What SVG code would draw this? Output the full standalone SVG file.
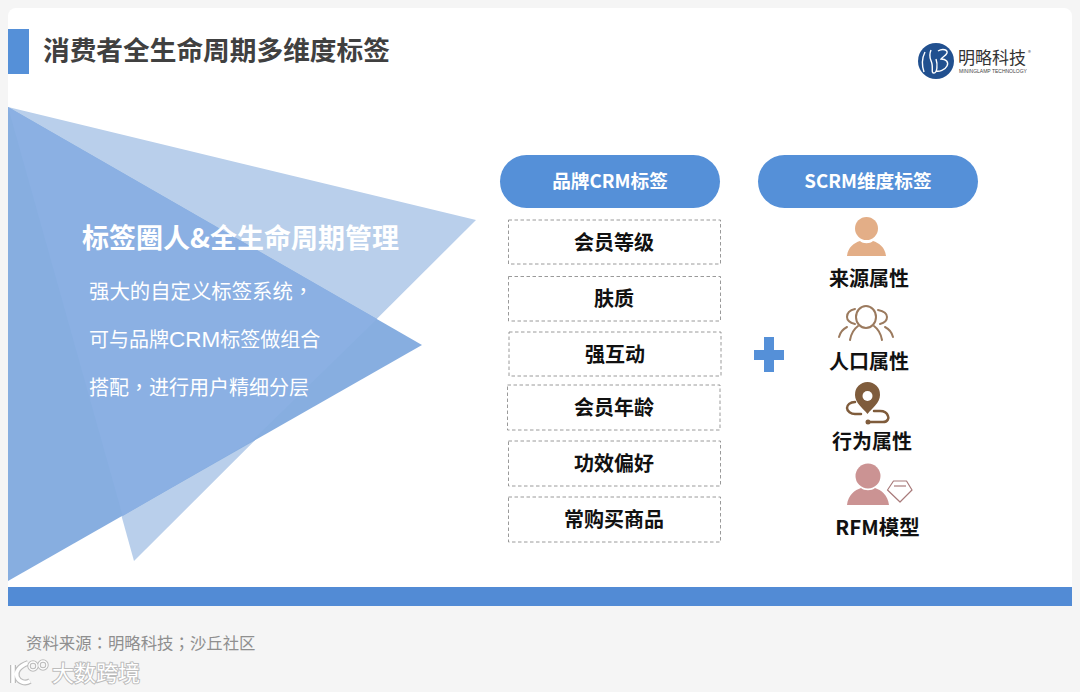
<svg xmlns="http://www.w3.org/2000/svg" width="1080" height="692" viewBox="0 0 1080 692">
<style>
text{font-family:"Noto Sans CJK SC","Liberation Sans",sans-serif}
.tc{font-family:"Noto Sans CJK TC","Liberation Sans",sans-serif}
.pill{fill:#5590d8}
.pilltext{fill:#fff;font-size:18.7px;font-weight:700;text-anchor:middle}
.box{fill:#fff;stroke:#808080;stroke-width:.8;stroke-dasharray:3.500 2.500}
.tag{fill:#111;font-size:20px;font-weight:700;text-anchor:middle}
.body{fill:#fff;font-size:20.400px}
.ico{fill:none;stroke-linecap:round}
</style>
<rect width="1080" height="692" fill="#f5f5f5"/>
<path d="M16 8H1064a8 8 0 0 1 8 8V606H8V16a8 8 0 0 1 8-8Z" fill="#fff"/>
<rect x="8" y="587" width="1064" height="19" fill="#528bd5"/>
<g id="header">
<rect x="8" y="29" width="21" height="45" fill="#5590d8"/>
<text x="43" y="60" font-size="26.700" font-weight="700" fill="#404040">消费者全生命周期多维度标签</text>
</g>
<g id="logo">
<circle cx="936" cy="61" r="18" fill="#21508f"/>
<path d="M925 52c-3 6-3 14-1 20M931 50c-3 7 0 9 1 14s-1 9 2 9 4-8 2-14M938 51c5-3 10-1 9 2s-5 4-6 6c5 0 8 3 6 7s-8 6-11 5" fill="none" stroke="#fff" stroke-width="1.400"/>
<text x="958" y="64" font-size="17" fill="#333">明略科技</text>
<text x="1028" y="55" font-size="6" fill="#555">®</text>
<text x="959" y="72.500" font-size="5" fill="#444" style="font-family:'Liberation Sans'">MININGLAMP TECHNOLOGY</text>
</g>
<g id="triangles">
<polygon points="8,107 476,220 134,561" fill="#b9cfeb"/>
<polygon points="8,107 422,345 8,581" fill="#87aee0"/>
<polygon points="8,107 377,319 252,441 122.700,516" fill="#8bb0e3"/>
</g>
<g id="left-text">
<text x="82" y="248" font-size="27" font-weight="700" fill="#fff">标签圈人&amp;全生命周期管理</text>
<text x="89" y="299" class="body">强大的自定义标签系统<tspan class="tc">，</tspan></text>
<text x="89" y="347" class="body" style="font-size:20px">可与品牌<tspan style="font-family:'Liberation Sans';font-size:22.500px">CRM</tspan>标签做组合</text>
<text x="89" y="395" class="body" style="font-size:20px">搭配<tspan class="tc">，</tspan>进行用户精细分层</text>
</g>
<g id="pill-crm"><rect x="500" y="155" width="220" height="53" rx="26.500" class="pill"/><text x="610" y="188" class="pilltext">品牌CRM标签</text></g>
<g id="pill-scrm"><rect x="758" y="155" width="220" height="53" rx="26.500" class="pill"/><text x="868" y="188" class="pilltext">SCRM维度标签</text></g>
<g id="tag-1"><rect x="508.500" y="220" width="212" height="44" class="box"/><text x="614" y="250" class="tag">会员等级</text></g>
<g id="tag-2"><rect x="508.500" y="276.500" width="212" height="44.500" class="box"/><text x="614" y="306" class="tag">肤质</text></g>
<g id="tag-3"><rect x="509" y="332" width="212" height="44" class="box"/><text x="615" y="362" class="tag">强互动</text></g>
<g id="tag-4"><rect x="507.500" y="385" width="212.500" height="45" class="box"/><text x="614" y="415" class="tag">会员年龄</text></g>
<g id="tag-5"><rect x="508.500" y="441" width="212" height="45" class="box"/><text x="614" y="471" class="tag">功效偏好</text></g>
<g id="tag-6"><rect x="508.500" y="497" width="212" height="45" class="box"/><text x="614" y="527" class="tag">常购买商品</text></g>
<g id="plus"><path d="M764 337h10v13h10v10h-10v12h-10v-12h-10v-10h10Z" fill="#5590d8"/></g>
<g id="attr-source">
<circle cx="866.500" cy="228.500" r="11.500" fill="#e3ae87"/>
<path d="M847 256c1-9 7-13 13-15 3 3 10 3 13 0 6 2 12 6 13 15Z" fill="#e3ae87"/>
<text x="869" y="286" class="tag">来源属性</text>
</g>
<g id="attr-people">
<g class="ico" stroke="#9b7a5e" stroke-width="2">
<ellipse cx="866" cy="317" rx="10" ry="11"/>
<path d="M850 340c1-6 4-11 8-14M882 340c-1-6-4-11-8-14M855 309c-5 1-8 4-8 8s4 6 8 7M878 310c5 1 9 3 9 7s-3 6-7 7M839 337c1-4 4-8 8-10M893 337c-1-4-4-8-8-10"/>
</g>
<text x="869" y="369" class="tag">人口属性</text>
</g>
<g id="attr-behavior">
<path d="M867.500 382a12.500 12.500 0 0 1 12.500 13c0 8-8 13-12.500 19-4.500-6-12.500-11-12.500-19a12.500 12.500 0 0 1 12.500-13Z" fill="#7f5c3c"/>
<circle cx="867.500" cy="396" r="5" fill="#fff"/>
<path d="M855 402c-5 0-8 3-8 6s4 6 8 6h6M868 422h15c5 0 6-4 5-6-1-3-4-5-8-5h-6" fill="none" stroke="#7f5c3c" stroke-width="2.500" stroke-linecap="round"/>
<circle cx="868" cy="422" r="2.500" fill="#7f5c3c"/>
<text x="872" y="449" class="tag">行为属性</text>
</g>
<g id="attr-rfm">
<circle cx="868" cy="476" r="12.500" fill="#cb9393"/>
<path d="M847 505c1-10 8-15 14-17 3 3 11 3 14 0 6 2 13 7 14 17Z" fill="#cb9393"/>
<path d="M887.500 490l6-9h13l5.500 9-12 12Z" fill="none" stroke="#a87a7a" stroke-width="1.200" stroke-linejoin="round"/>
<path d="M894 486h12" stroke="#a87a7a" stroke-width="1.200"/>
<text x="877.500" y="535" class="tag" style="font-size:20.500px">RFM模型</text>
</g>
<g id="footer">
<text x="26" y="649" font-size="16.400" fill="#8f8f8f">资料来源<tspan class="tc">：</tspan>明略科技<tspan class="tc">；</tspan>沙丘社区</text>
<g id="watermark">
<path d="M13 665v18M28 663c-9 3-13 9-11 14s8 7 13 4" fill="none" stroke="#bcbcbc" stroke-width="6"/>
<path d="M13 665v18M28 663c-9 3-13 9-11 14s8 7 13 4" fill="none" stroke="#fff" stroke-width="3.500"/>
<circle cx="33" cy="666" r="4" fill="none" stroke="#bcbcbc" stroke-width="3.500"/><circle cx="43" cy="665" r="4" fill="none" stroke="#bcbcbc" stroke-width="3.500"/>
<circle cx="33" cy="666" r="4" fill="none" stroke="#fff" stroke-width="1.500"/><circle cx="43" cy="665" r="4" fill="none" stroke="#fff" stroke-width="1.500"/>
<text x="52" y="681" font-size="22" fill="#fff" stroke="#bdbdbd" stroke-width="2" paint-order="stroke">大数跨境</text>
</g>
</g>
</svg>
